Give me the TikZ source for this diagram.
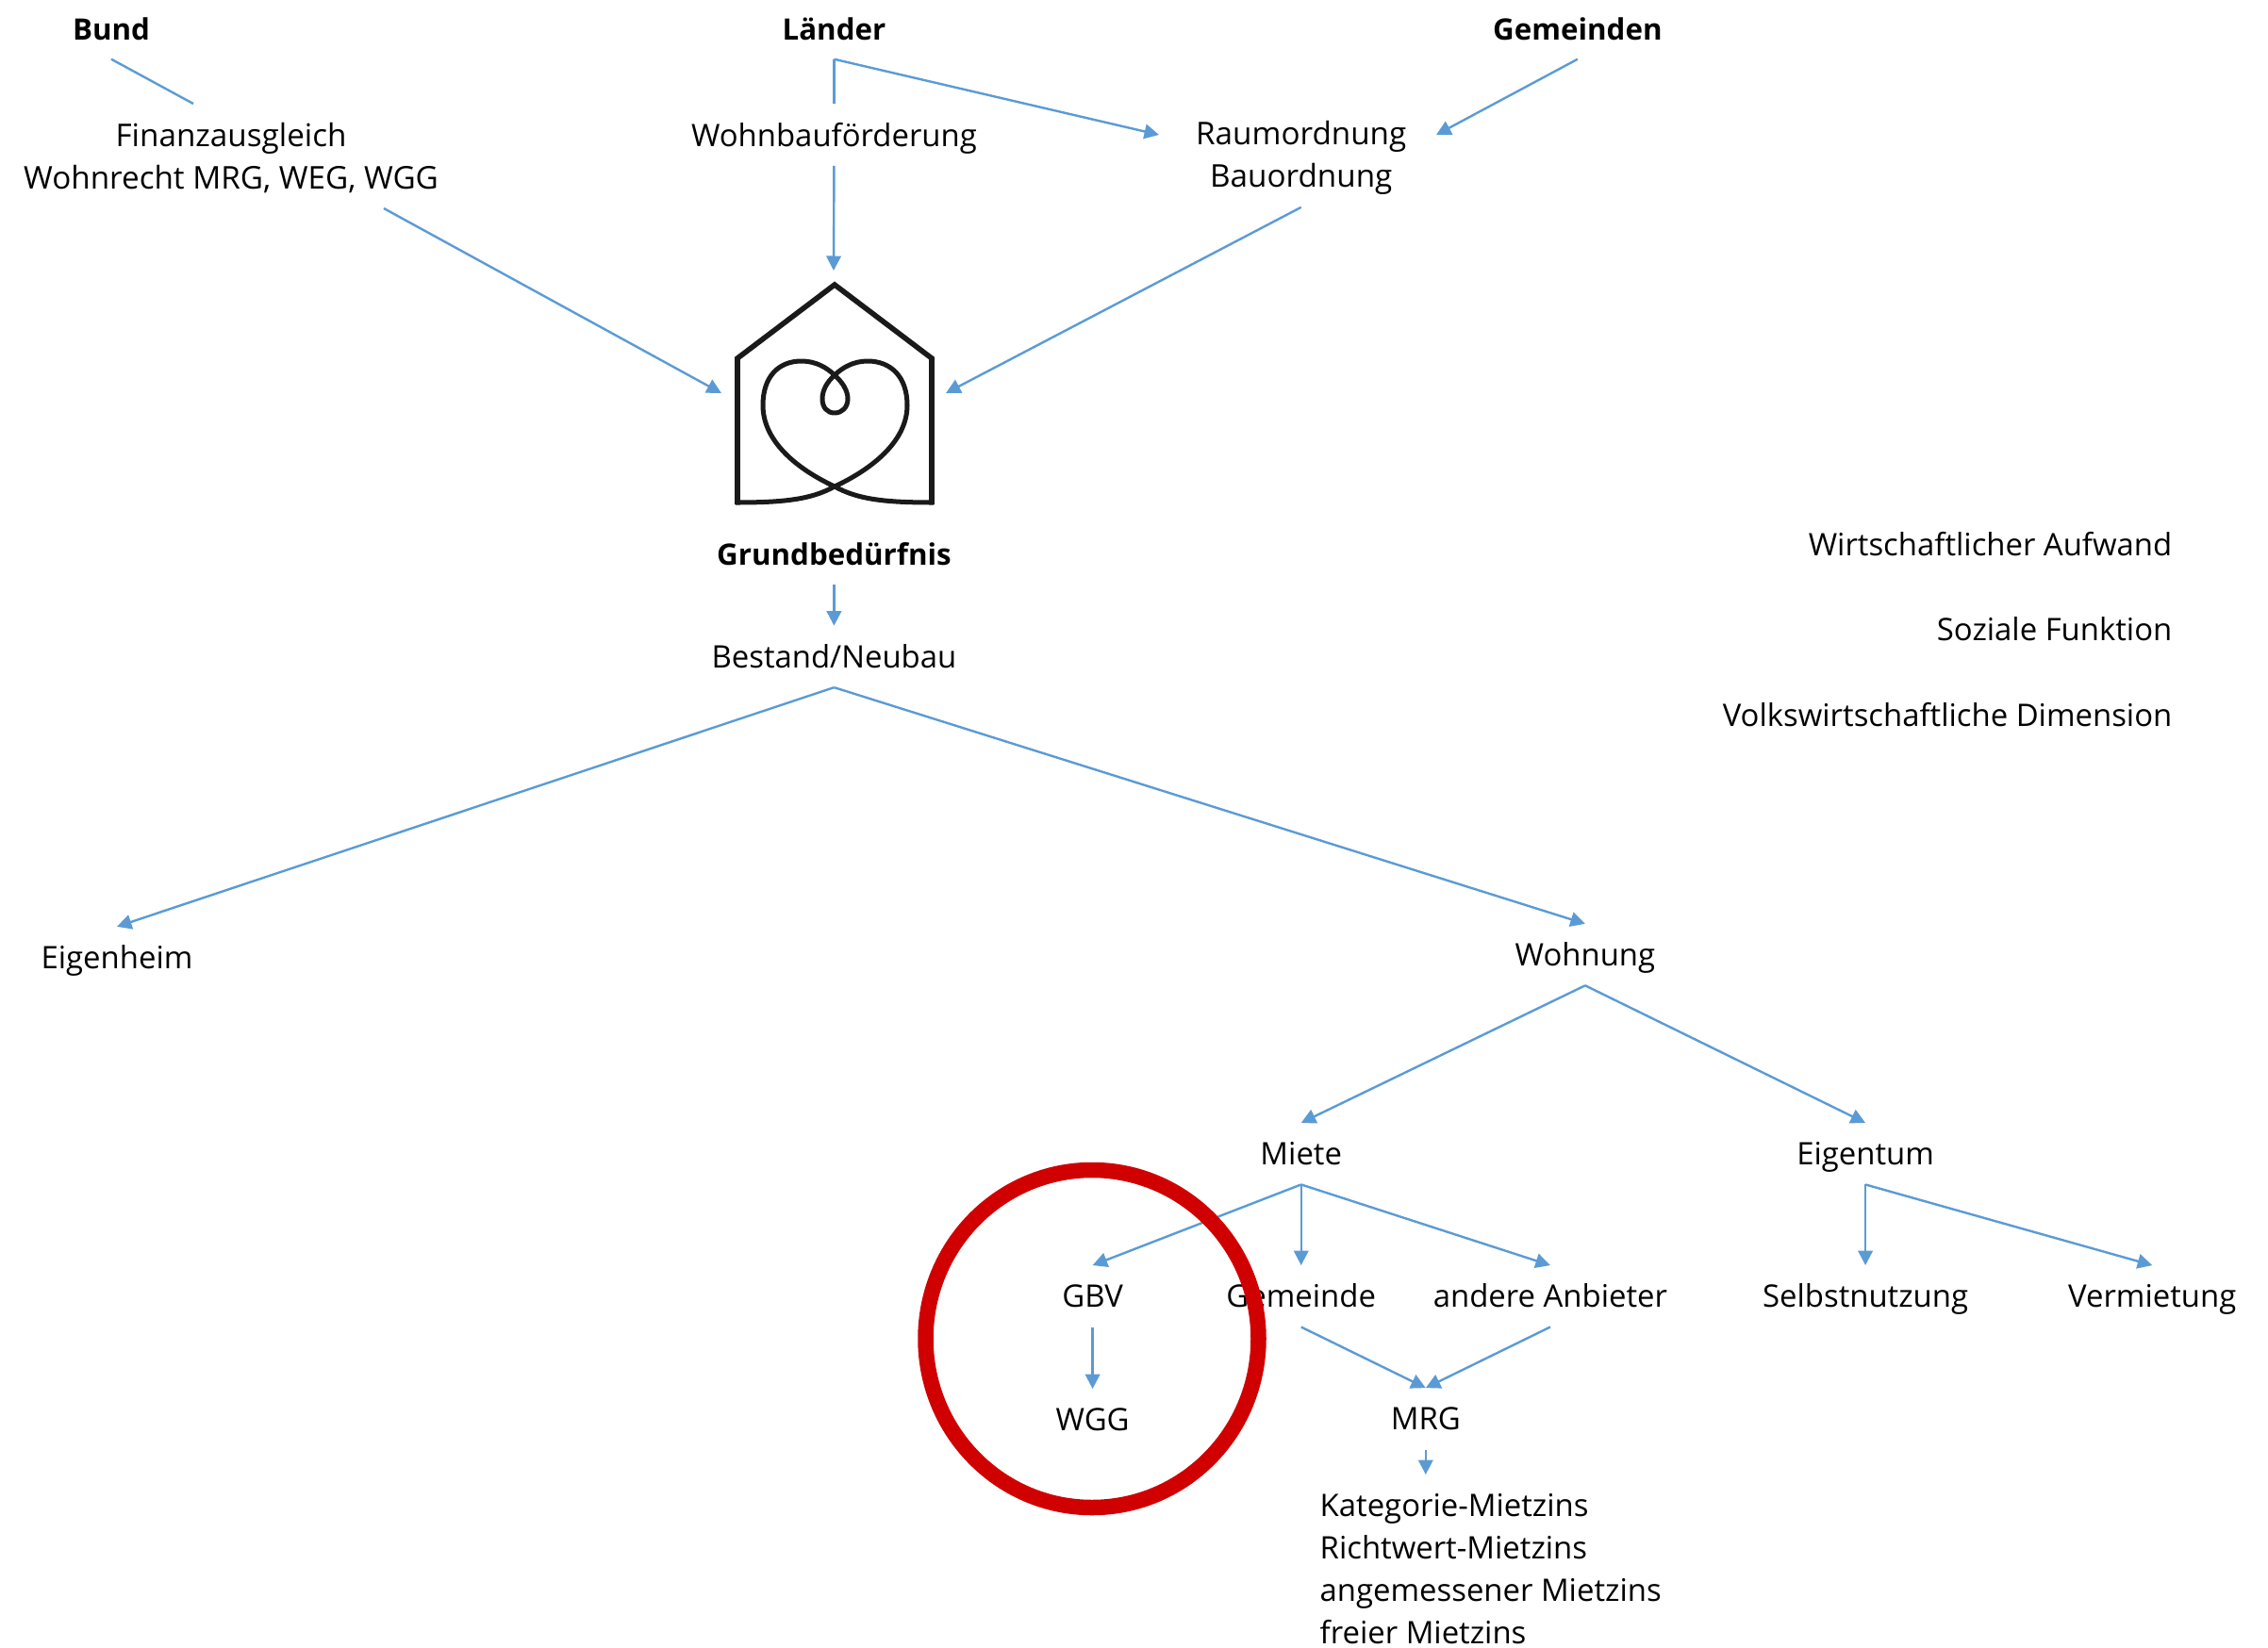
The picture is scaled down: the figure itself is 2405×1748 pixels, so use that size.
\documentclass[tikz,border=0pt]{standalone}
\usepackage{fontspec}
\setmainfont{Open Sans}
\usetikzlibrary{positioning}
\usetikzlibrary{arrows.meta}
\definecolor{linkblue}{HTML}{5B9BD5}
\definecolor{ringred}{HTML}{D00000}
\definecolor{homeblack}{HTML}{1A1A1A}
\tikzset{txt node/.style={inner sep=0pt,minimum height=0.64cm,text height=0.30cm,text depth=0.06cm,align=center,font=\fontsize{9.35}{12.8}\selectfont},
  two node/.style={txt node,minimum height=1.04cm,text height=,text depth=,font=\fontsize{9.45}{12.8}\selectfont},
  head node/.style={txt node,font=\fontsize{8.9}{12.8}\selectfont\bfseries},
  link/.style={color=linkblue,line width=0.024cm},
  arrow link/.style={link,-{Triangle[length=0.155cm,width=0.155cm]}},
  home line/.style={draw=homeblack,line width=0.056cm},}

\begin{document}
\begin{tikzpicture}[x=0.01cm,y=-0.01cm,on grid]
      \useasboundingbox (0,0) rectangle (2405,1748);

      \node[head node] (bund) at (118,30) {Bund};
      \node[head node] (laender) [right = 7.66cm of bund] {Länder};
      \node[head node] (gemeinden) [right = 7.88cm of laender] {Gemeinden};
      \node[two node] (finanz) [below right = 1.37cm and 1.27cm of bund] {Finanzausgleich\\Wohnrecht MRG, WEG, WGG};
      \node[txt node] (wohnbau) [below = 1.13cm of laender] {Wohnbauförderung};
      \node[two node] (raum) [below left = 1.37cm and 2.93cm of gemeinden] {Raumordnung\\Bauordnung};

      \node[head node] (grund) [below = 4.44cm of wohnbau] {Grundbedürfnis};
      \node[txt node] (bestand) [below = 1.09cm of grund] {Bestand/Neubau};
      \node[txt node] (eigenheim) [below left = 3.19cm and 7.6cm of bestand] {Eigenheim};
      \node[txt node] (wohnung) [below right = 3.16cm and 7.96cm of bestand] {Wohnung};
      \node[txt node] (miete) [below left = 2.11cm and 3.01cm of wohnung] {Miete};
      \node[txt node] (eigentum) [below right = 2.11cm and 2.97cm of wohnung] {Eigentum};
      \node[txt node] (gbv) [below left = 1.51cm and 2.21cm of miete] {GBV};
      \node[txt node] (gemeinde) [below = 1.51cm of miete] {Gemeinde};
      \node[txt node] (anbieter) [below right = 1.51cm and 2.64cm of miete] {andere Anbieter};
      \node[txt node] (selbst) [below = 1.51cm of eigentum] {Selbstnutzung};
      \node[txt node] (vermiet) [below right = 1.51cm and 3.04cm of eigentum] {Vermietung};
      \node[txt node] (wgg) [below = 1.31cm of gbv] {WGG};
      \node[txt node] (mrg) [below right = 1.3cm and 1.32cm of gemeinde] {MRG};
      \node[txt node,minimum height=0pt,text height=,text depth=,align=left,inner ysep=0.2cm] (mietzins) [anchor=north west] at (1399,1564) {Kategorie-Mietzins\\Richtwert-Mietzins\\angemessener Mietzins\\freier Mietzins};

      \node[txt node,anchor=east] (aufwand) at (2304,577) {Wirtschaftlicher Aufwand};
      \node[txt node,anchor=east] (sozial) [below = 0.905cm of aufwand.east,anchor=east] {Soziale Funktion};
      \node[txt node,anchor=east] (dimension) [below = 0.905cm of sozial.east,anchor=east] {Volkswirtschaftliche Dimension};

      % free ends
      \coordinate (bund end) at (205,110);
      \coordinate (finanz out) at (407,221);
      \coordinate (home left) at (765,417);
      \coordinate (home top) at (884,287);
      \coordinate (home right) at (1003,417);
      \coordinate (raum left) at (1229,143);
      \coordinate (raum right) at (1523,143);

      % house with heart
      \draw[home line] (782,535) -- (782,380) -- (885,302) -- (988,380) -- (988,535);
      \draw[home line,line width=0.05cm,line join=round]
        (780,533) .. controls (830,533) and (860,530) .. (885,516)
        .. controls (930,495) and (962,465) .. (962,430)
        .. controls (962,400) and (945,383) .. (920,383)
        .. controls (905,383) and (893,390) .. (885,398)
        .. controls (877,405) and (872,414) .. (872,423)
        .. controls (872,432) and (877,438) .. (885,438)
        .. controls (893,438) and (899,432) .. (899,423)
        .. controls (899,414) and (893,405) .. (885,398)
        .. controls (877,390) and (865,383) .. (850,383)
        .. controls (825,383) and (809,400) .. (809,430)
        .. controls (809,465) and (840,495) .. (885,516)
        .. controls (910,530) and (940,533) .. (990,533);

      \path[link]
      (bund.south) edge (bund end)
      (laender.south) edge (wohnbau.north);

      \path[arrow link]
      (laender.south) edge (raum left)
      (gemeinden.south) edge (raum right)
      (finanz out) edge (home left)
      (wohnbau.south) edge (home top)
      (raum.south) edge (home right)
      (grund.south) edge (bestand.north)
      (bestand.south) edge (eigenheim.north)
      (bestand.south) edge (wohnung.north)
      (wohnung.south) edge (miete.north)
      (wohnung.south) edge (eigentum.north)
      (miete.south) edge (gbv.north)
      (miete.south) edge (gemeinde.north)
      (miete.south) edge (anbieter.north)
      (eigentum.south) edge (selbst.north)
      (eigentum.south) edge (vermiet.north)
      (gbv.south) edge (wgg.north)
      (gemeinde.south) edge (mrg.north)
      (anbieter.south) edge (mrg.north)
      (mrg.south) edge (mrg.south |- mietzins.north);

      \draw[draw=ringred,line width=0.165cm] (1158,1420) ellipse (176.5 and 179);
    \end{tikzpicture}
\end{document}
